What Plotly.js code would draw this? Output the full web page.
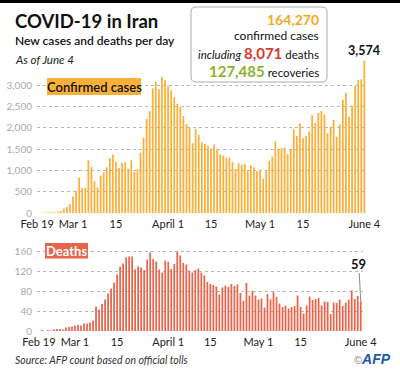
<!DOCTYPE html>
<html><head><meta charset="utf-8">
<script src="https://cdn.plot.ly/plotly-3.0.1.min.js"></script>
<style>html,body{margin:0;padding:0;background:#fff;}#chart{width:400px;height:377px;}</style>
</head><body><div id="chart"></div>
<script>
// Daily new confirmed cases, Feb 19 -> June 4 2020
const cases = [
  2,3,13,10,15,18,34,44,106,143,205,
  385,523,835,586,591,1234,1076,743,595,881,958,1075,1289,1365,1209,1053,1178,1192,1046,1237,966,1028,1411,1762,2206,2389,2926,3076,2901,3186,3110,
  2987,2875,2715,2560,2483,2274,2089,1997,1634,1972,1837,1657,1617,1574,1512,1606,1499,1374,1343,1294,1297,1194,1030,1168,1134,1153,991,1112,1073,993,
  1006,802,976,1223,1323,1680,1485,1529,1529,1383,1481,1958,1808,2102,1757,1806,1912,2294,2111,2346,2392,2311,1869,2023,2180,1787,2080,2657,2818,2258,2516,
  2979,3117,3134,3574
];
// Daily deaths, same days
const deaths = [
  2,0,2,1,3,4,4,3,7,8,9,
  11,12,11,15,15,17,21,49,43,54,63,75,85,97,113,129,135,147,149,149,123,129,127,122,143,157,144,139,123,117,141,
  138,124,134,158,151,136,133,121,117,122,125,117,111,98,94,92,89,73,87,91,88,94,90,93,76,60,96,71,80,71,
  63,65,47,74,63,78,68,55,48,51,45,48,50,71,48,35,51,69,62,64,66,51,59,58,34,57,56,63,50,57,63,
  81,64,70,59
];
const dayIndex = cases.map((_, i) => i);
const tickDaysTop = [-0.7, 11, 25, 42, 56, 72, 86, 106];
const tickDaysBottom = [-1, 11, 25, 42, 56, 72, 86, 106];
const tickLabels = ["Feb 19", "Mar 1", "15", "April 1", "15", "May 1", "15", "June 4"];
const caseTicks = [0, 500, 1000, 1500, 2000, 2500, 3000];
const deathTicks = [0, 40, 80, 120, 160];
const totalCases = "164,270", totalDeaths = "8,071", totalRecoveries = "127,485";

const W = 400, H = 377;
const px = v => v / W, py = v => 1 - v / H;
const FONT = "Lato, 'Open Sans', sans-serif";
const ORANGE = "#FBB03B", RED = "#E8644B";

const last = dayIndex.length - 1;

const traces = [
  {type: "bar", x: dayIndex, y: cases, xaxis: "x", yaxis: "y", marker: {color: ORANGE}, hoverinfo: "skip"},
  {type: "bar", x: dayIndex, y: deaths, xaxis: "x2", yaxis: "y2", marker: {color: RED}, hoverinfo: "skip"}
];

function rr(x0, y0, x1, y1, r) {
  const X = v => px(v), Y = v => py(v);
  return `M${X(x0 + r)},${Y(y0)} L${X(x1 - r)},${Y(y0)} Q${X(x1)},${Y(y0)} ${X(x1)},${Y(y0 + r)} ` +
    `L${X(x1)},${Y(y1 - r)} Q${X(x1)},${Y(y1)} ${X(x1 - r)},${Y(y1)} L${X(x0 + r)},${Y(y1)} ` +
    `Q${X(x0)},${Y(y1)} ${X(x0)},${Y(y1 - r)} L${X(x0)},${Y(y0 + r)} Q${X(x0)},${Y(y0)} ${X(x0 + r)},${Y(y0)} Z`;
}

const xCommon = {
  tickmode: "array", ticktext: tickLabels, showgrid: false, zeroline: false,
  showline: false, ticks: "", tickfont: {family: FONT, size: 11, color: "#222"}, fixedrange: true, ticklabelstandoff: 3
};
const yCommon = {
  showgrid: true, gridcolor: "#b8b8b8", griddash: "dot", gridwidth: 1, zeroline: false, ticks: "",
  tickfont: {family: FONT, size: 10, color: "#aaa"}, tickmode: "array", fixedrange: true, ticklabelstandoff: 4,
  ticklabelshift: -3.5
};

const layout = {
  width: W, height: H, margin: {l: 0, r: 0, t: 0, b: 0}, paper_bgcolor: "#fff", plot_bgcolor: "rgba(0,0,0,0)",
  showlegend: false, bargap: 0.42,
  xaxis: Object.assign({}, xCommon, {tickvals: tickDaysTop, domain: [px(37), px(366)], range: [-0.75, 106.55], anchor: "y"}),
  yaxis: Object.assign({}, yCommon, {domain: [py(213), py(57.3)], range: [0, 3650], tickvals: caseTicks, tickformat: ",", anchor: "x"}),
  xaxis2: Object.assign({}, xCommon, {tickvals: tickDaysBottom, domain: [px(37), px(363)], range: [-1.63, 106.75], anchor: "y2"}),
  yaxis2: Object.assign({}, yCommon, {domain: [py(331), py(246)], range: [0, 170], tickvals: deathTicks, anchor: "x2"}),
  shapes: [
    {type: "rect", xref: "paper", yref: "paper", x0: 0, x1: 1, y0: py(0), y1: py(3), fillcolor: "#000", line: {width: 0}},
    {type: "path", xref: "paper", yref: "paper", path: rr(191, 7, 327, 82, 5), fillcolor: "#fff", line: {color: "#aaa", width: 1}},
    {type: "rect", xref: "paper", yref: "paper", x0: px(47), x1: px(141), y0: py(78), y1: py(95), fillcolor: ORANGE, line: {width: 0}},
    {type: "rect", xref: "paper", yref: "paper", x0: px(45), x1: px(88), y0: py(243), y1: py(258.5), fillcolor: RED, line: {width: 0}}
  ],
  annotations: [
    {xref: "paper", yref: "paper", x: px(13), y: py(20.5), xanchor: "left", yanchor: "middle", showarrow: false,
      text: "<b>COVID-19 in Iran</b>", font: {family: FONT, size: 18.5, color: "#111"}},
    {xref: "paper", yref: "paper", x: px(13), y: py(41), xanchor: "left", yanchor: "middle", showarrow: false,
      text: "New cases and deaths per day", font: {family: FONT, size: 12, color: "#111", weight: 600}},
    {xref: "paper", yref: "paper", x: px(13), y: py(59), xanchor: "left", yanchor: "middle", showarrow: false,
      text: "<i>As of June 4</i>", font: {family: FONT, size: 11.5, color: "#222"}},
    {xref: "paper", yref: "paper", x: px(321), y: py(19.5), xanchor: "right", yanchor: "middle", showarrow: false,
      text: "<b>" + totalCases + "</b>", font: {family: FONT, size: 14, color: "#F5A81F"}},
    {xref: "paper", yref: "paper", x: px(321), y: py(35), xanchor: "right", yanchor: "middle", showarrow: false,
      text: "confirmed cases", font: {family: FONT, size: 12, color: "#111"}},
    {xref: "paper", yref: "paper", x: px(321), y: py(52.5), xanchor: "right", yanchor: "middle", showarrow: false,
      text: "<i>including</i> <span style='color:#D93A2B;font-size:15px'><b>" + totalDeaths + "</b></span> deaths",
      font: {family: FONT, size: 11.5, color: "#111"}},
    {xref: "paper", yref: "paper", x: px(321), y: py(70.5), xanchor: "right", yanchor: "middle", showarrow: false,
      text: "<span style='color:#8CB42C;font-size:15px'><b>" + totalRecoveries + "</b></span> recoveries",
      font: {family: FONT, size: 11.5, color: "#111"}},
    {xref: "paper", yref: "paper", x: px(94), y: py(86.5), xanchor: "center", yanchor: "middle", showarrow: false,
      text: "Confirmed cases", font: {family: FONT, size: 13, color: "#111", weight: 600}},
    {xref: "paper", yref: "paper", x: px(66.5), y: py(250.5), xanchor: "center", yanchor: "middle", showarrow: false,
      text: "<b>Deaths</b>", font: {family: FONT, size: 13, color: "#fff"}},
    {xref: "x", yref: "y", x: last, y: cases[last], xanchor: "center", yanchor: "bottom", yshift: 1, showarrow: false,
      text: "<b>" + cases[last].toLocaleString("en-US") + "</b>", font: {family: FONT, size: 12.5, color: "#111"}},
    {xref: "x2", yref: "y2", x: last, y: deaths[last], showarrow: true, arrowhead: 0, arrowwidth: 1, arrowcolor: "#888",
      ax: -2, ay: -38, standoff: 0, text: "<b>" + deaths[last] + "</b>", font: {family: FONT, size: 13, color: "#111"}},
    {xref: "paper", yref: "paper", x: px(13), y: py(360), xanchor: "left", yanchor: "middle", showarrow: false,
      text: "<i>Source: AFP count based on official tolls</i>", font: {family: FONT, size: 10.5, color: "#333"}},
    {xref: "paper", yref: "paper", x: px(393), y: py(359), xanchor: "right", yanchor: "middle", showarrow: false,
      text: "<span style='color:#888;font-size:11px'>©</span><span style='color:#1F5AA8'><b><i>AFP</i></b></span>",
      font: {family: "'Liberation Sans', Arial, sans-serif", size: 14, color: "#1F5AA8"}}
  ]
};

Plotly.newPlot("chart", traces, layout, {displayModeBar: false, staticPlot: true});
</script>
</body></html>
